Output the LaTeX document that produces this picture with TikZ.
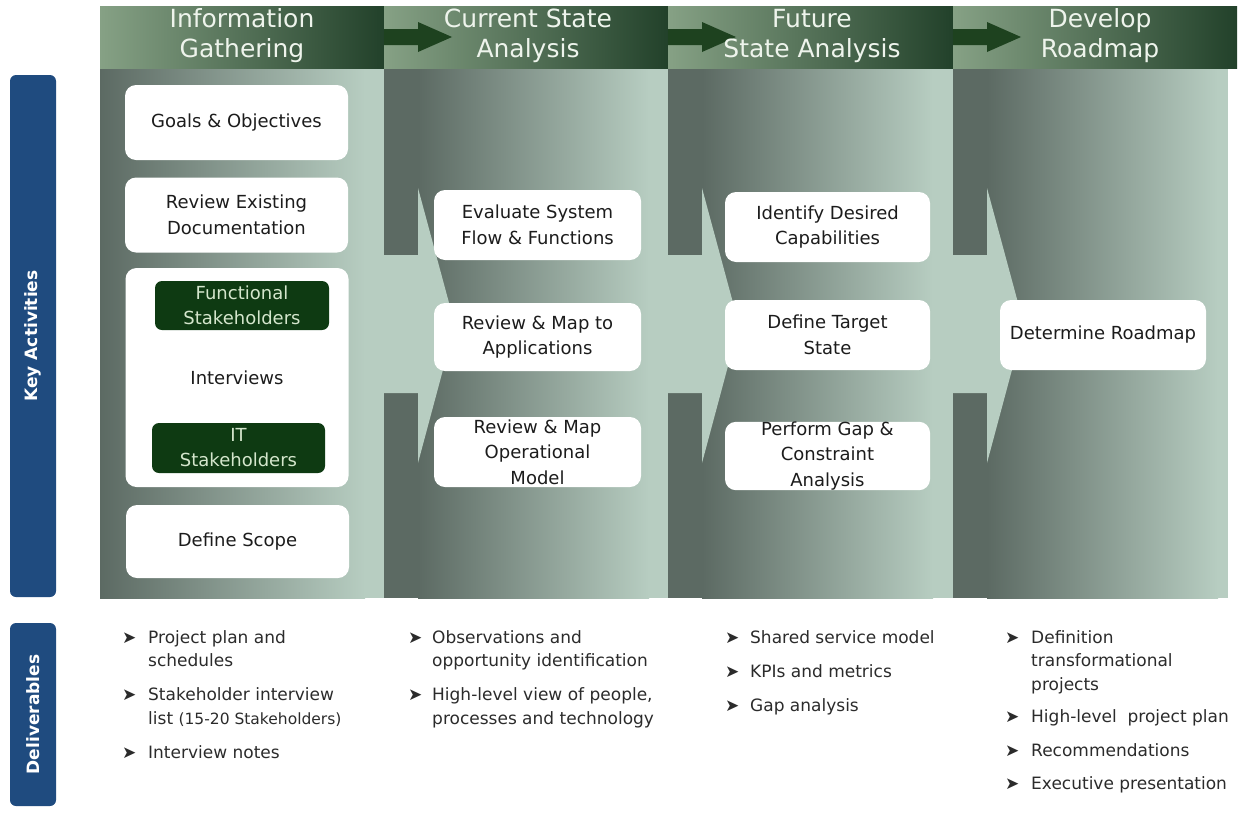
\documentclass[tikz,border=0pt]{standalone}
\usepackage{fontspec}
\setmainfont{DejaVu Sans}
\usepackage{array}

\definecolor{bodydark}{HTML}{5C6A63}
\definecolor{bodylight}{HTML}{B7CDC1}
\definecolor{headlight}{HTML}{86A185}
\definecolor{headdark}{HTML}{22412A}
\definecolor{arrowgreen}{HTML}{1E421F}
\definecolor{stakegreen}{HTML}{0E3A12}
\definecolor{staketext}{HTML}{D4E6CC}
\definecolor{sidebarblue}{HTML}{1F4B7F}
\definecolor{boxtext}{HTML}{1C1C1C}
\definecolor{deltext}{HTML}{2B2B2B}
\definecolor{headtext}{HTML}{EEF4EC}

\tikzset{
  headtitle/.style={align=center, text=headtext, inner sep=0pt,
    font=\fontsize{25}{30}\selectfont},
  actbox/.style={fill=white, rounded corners=11pt, align=center, text=boxtext,
    inner sep=0pt, font=\fontsize{18}{25.5}\selectfont},
  stakebox/.style={fill=stakegreen, rounded corners=7pt, align=center,
    text=staketext, inner sep=0pt, font=\fontsize{18}{25}\selectfont},
  sidebar/.style={fill=sidebarblue, rounded corners=6pt, rotate=90, text=white,
    inner sep=0pt, minimum height=46pt, font=\bfseries\fontsize{17}{20}\selectfont},
  dlist/.style={anchor=base west, inner sep=0pt, text=deltext,
    font=\fontsize{17}{23.5}\selectfont},
}

\newcommand{\blt}{{\fontsize{17}{17}\selectfont ➤}}

\begin{document}
\begin{tikzpicture}[x=1pt,y=-1pt]
\useasboundingbox (0,0) rectangle (1241,814);

% ---- body of the four phases ----
\fill[bodylight] (100,68) rectangle (1228,598);
\shade[left color=bodydark, right color=bodylight] (100,68) rectangle (365,598);
\foreach \x in {384,668,953}{
  \fill[bodydark] (\x,68) rectangle (\x+34,598);
  \shade[left color=bodydark, right color=bodylight] (\x+34,68) rectangle (\x+265,598);
  % light arrow carried over from the previous phase
  \fill[bodylight] (\x-1,255) -- (\x+34,255) -- (\x+34,188) -- (\x+71,325)
    -- (\x+34,463) -- (\x+34,393) -- (\x-1,393) -- cycle;
}

% ---- header band ----
\foreach \x/\w in {100/284, 384/284, 668/285, 953/284}{
  \shade[left color=headlight, right color=headdark] (\x,6) rectangle (\x+\w,68);
}
\foreach \x in {384,668,953}{
  \fill[arrowgreen] (\x,29) -- (\x+34,29) -- (\x+34,22) -- (\x+68,37)
    -- (\x+34,52) -- (\x+34,45) -- (\x,45) -- cycle;
}
\node[headtitle] (h1) at (242,36) {Information\\Gathering};
\node[headtitle] (h2) at (528,36) {Current State\\Analysis};
\node[headtitle] (h3) at (812,36) {Future\\State Analysis};
\node[headtitle] (h4) at (1100,36) {Develop\\Roadmap};

% ---- side labels ----
\node[sidebar, minimum width=522pt] (keyact) at (33,336) {Key Activities};
\node[sidebar, minimum width=183pt] (deliv) at (33,714.5) {Deliverables};

% ---- information gathering ----
\node[actbox, minimum width=223pt, minimum height=75pt] (goals) at (236.5,122.5) {Goals \& Objectives};
\node[actbox, minimum width=223pt, minimum height=75pt] (review) at (236.5,215) {Review Existing\\Documentation};
\node[actbox, minimum width=223pt, minimum height=219pt] (interviews) at (237,377.5) {Interviews};
\node[stakebox, minimum width=174pt, minimum height=49pt] (functional) at (242,305.5) {Functional\\Stakeholders};
\node[stakebox, minimum width=173pt, minimum height=50pt] (itstake) at (238.5,448) {IT\\Stakeholders};
\node[actbox, minimum width=223pt, minimum height=73pt] (scope) at (237.5,541.5) {Define Scope};

% ---- current state analysis ----
\node[actbox, minimum width=207pt, minimum height=70pt] (evaluate) at (537.5,225) {Evaluate System\\Flow \& Functions};
\node[actbox, minimum width=207pt, minimum height=68pt] (mapapps) at (537.5,337) {Review \& Map to\\Applications};
\node[actbox, minimum width=207pt, minimum height=70pt] (mapops) at (537.5,452) {Review \& Map\\Operational\\Model};

% ---- future state analysis ----
\node[actbox, minimum width=205pt, minimum height=70pt] (desired) at (827.5,227) {Identify Desired\\Capabilities};
\node[actbox, minimum width=205pt, minimum height=70pt] (target) at (827.5,335) {Define Target\\State};
\node[actbox, minimum width=205pt, minimum height=68pt] (gap) at (827.5,456) {Perform Gap \&\\Constraint\\Analysis};

% ---- develop roadmap ----
\node[actbox, minimum width=206pt, minimum height=70pt] (roadmap) at (1103,335) {Determine Roadmap};

% ---- deliverables ----
\node[dlist] (dl1) at (122,643) {%
\begin{tabular}[t]{@{}p{26pt}@{}l@{}}
\blt & Project plan and\\
     & schedules\\[10.5pt]
\blt & Stakeholder interview\\
     & list {\fontsize{15.5}{23.5}\selectfont(15-20 Stakeholders)}\\[10.5pt]
\blt & Interview notes
\end{tabular}};

\node[dlist] (dl2) at (408,643) {%
\begin{tabular}[t]{@{}p{24pt}@{}l@{}}
\blt & Observations and\\
     & opportunity identification\\[10.5pt]
\blt & High-level view of people,\\
     & processes and technology
\end{tabular}};

\node[dlist] (dl3) at (725,643) {%
\begin{tabular}[t]{@{}p{25pt}@{}l@{}}
\blt & Shared service model\\[10.5pt]
\blt & KPIs and metrics\\[10.5pt]
\blt & Gap analysis
\end{tabular}};

\node[dlist] (dl4) at (1005,643) {%
\begin{tabular}[t]{@{}p{26pt}@{}l@{}}
\blt & Definition\\
     & transformational\\
     & projects\\[9pt]
\blt & High-level~ project plan\\[10pt]
\blt & Recommendations\\[9.5pt]
\blt & Executive presentation
\end{tabular}};

\end{tikzpicture}
\end{document}
